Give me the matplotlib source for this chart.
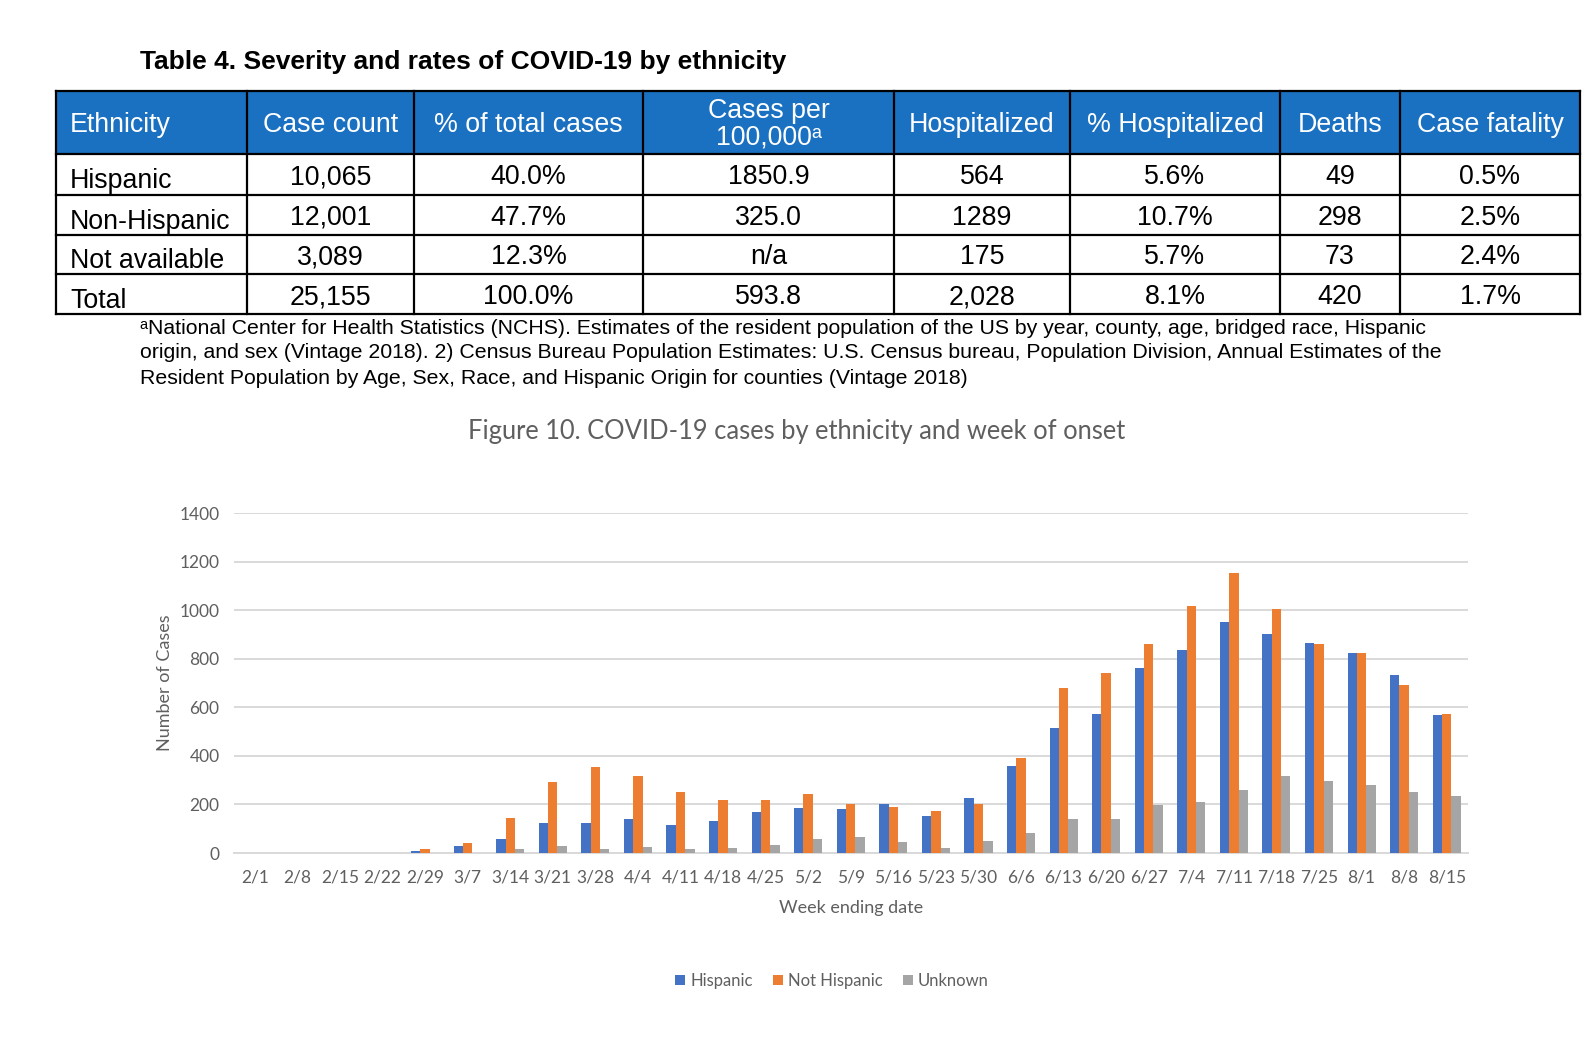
import matplotlib
matplotlib.use('Agg')
import numpy as np
from matplotlib import pyplot as plt
from matplotlib.patches import Rectangle

# table data
table_title = 'Table 4. Severity and rates of COVID-19 by ethnicity'
col_headers = ['Ethnicity', 'Case count', '% of total cases', 'Cases per\n100,000\u1d43',
               'Hospitalized', '% Hospitalized', 'Deaths', 'Case fatality']
row_names = ['Hispanic', 'Non-Hispanic', 'Not available', 'Total']
case_count = ['10,065', '12,001', '3,089', '25,155']
pct_total = ['40.0%', '47.7%', '12.3%', '100.0%']
cases_per_100k = ['1850.9', '325.0', 'n/a', '593.8']
hospitalized = ['564', '1289', '175', '2,028']
pct_hosp = ['5.6%', '10.7%', '5.7%', '8.1%']
deaths = ['49', '298', '73', '420']
case_fatality = ['0.5%', '2.5%', '2.4%', '1.7%']
footnote = ['\u1d43National Center for Health Statistics (NCHS). Estimates of the resident population of the US by year, county, age, bridged race, Hispanic',
            'origin, and sex (Vintage 2018). 2) Census Bureau Population Estimates: U.S. Census bureau, Population Division, Annual Estimates of the',
            'Resident Population by Age, Sex, Race, and Hispanic Origin for counties (Vintage 2018)']

# chart data
chart_title = 'Figure 10. COVID-19 cases by ethnicity and week of onset'
weeks = ['2/1', '2/8', '2/15', '2/22', '2/29', '3/7', '3/14', '3/21', '3/28', '4/4',
         '4/11', '4/18', '4/25', '5/2', '5/9', '5/16', '5/23', '5/30', '6/6', '6/13',
         '6/20', '6/27', '7/4', '7/11', '7/18', '7/25', '8/1', '8/8', '8/15']
hispanic = [0, 0, 0, 0, 8, 30, 59, 124, 124, 140,
            116, 132, 167, 187, 180, 200, 151, 228, 357, 513,
            574, 762, 834, 951, 903, 866, 822, 734, 568]
not_hispanic = [0, 0, 0, 0, 15, 43, 143, 291, 353, 317,
                251, 219, 219, 244, 203, 191, 172, 203, 393, 678,
                743, 862, 1016, 1152, 1005, 861, 822, 693, 574]
unknown = [0, 0, 0, 0, 0, 2, 18, 30, 18, 26,
           18, 22, 32, 56, 66, 44, 22, 51, 82, 139,
           139, 198, 211, 261, 317, 296, 280, 253, 236]

W, H = 1592, 1061
fig = plt.figure(figsize=(W / 100, H / 100), dpi=100)
fig.patch.set_facecolor('white')

# ---- table drawn in pixel coords ----
axt = fig.add_axes([0, 0, 1, 1])
axt.set_xlim(0, W)
axt.set_ylim(H, 0)
axt.axis('off')

tfont = ['Liberation Sans', 'DejaVu Sans']
col_x = [56, 247, 414, 643, 894, 1070, 1280, 1400, 1580]
row_y = [91, 154, 195, 234.5, 274, 314]
header_blue = '#1a70c1'
fs = 19.3

axt.text(140, 62, table_title, fontsize=19, fontweight='bold', family=tfont,
         ha='left', va='center', color='black')

axt.add_patch(Rectangle((col_x[0], row_y[0]), col_x[-1] - col_x[0], row_y[1] - row_y[0],
                        facecolor=header_blue, edgecolor='none'))
for x in col_x:
    axt.plot([x, x], [row_y[0], row_y[-1]], color='black', lw=1.6, solid_capstyle='projecting')
for y in row_y:
    axt.plot([col_x[0], col_x[-1]], [y, y], color='black', lw=1.6, solid_capstyle='projecting')

hy = (row_y[0] + row_y[1]) / 2 + 3
for i, h in enumerate(col_headers):
    if i == 0:
        axt.text(col_x[0] + 14, hy, h, fontsize=fs, family=tfont, color='white',
                 ha='left', va='center')
    else:
        axt.text((col_x[i] + col_x[i + 1]) / 2, hy - 1, h, fontsize=fs, family=tfont, color='white',
                 ha='center', va='center', linespacing=1.0)

columns = [row_names, case_count, pct_total, cases_per_100k, hospitalized, pct_hosp, deaths, case_fatality]
for r in range(len(row_names)):
    cy = (row_y[r + 1] + row_y[r + 2]) / 2 + 3
    for c, col in enumerate(columns):
        if c == 0:
            axt.text(col_x[0] + 14, cy + 4, col[r], fontsize=fs, family=tfont, color='black',
                     ha='left', va='center')
        else:
            axt.text((col_x[c] + col_x[c + 1]) / 2, cy, col[r], fontsize=fs, family=tfont,
                     color='black', ha='center', va='center')

for i, line in enumerate(footnote):
    axt.text(140, 328 + i * 25, line, fontsize=15.3, family=tfont, color='black',
             ha='left', va='center')

# ---- bar chart ----
cfont = ['Lato', 'DejaVu Sans']
gray_text = '#5f5f5f'
ax = fig.add_axes([233.5 / W, 1 - 853 / H, (1468 - 233.5) / W, (853 - 513) / H])
x = np.arange(len(weeks))
bw = 0.22
ax.bar(x - bw, hispanic, bw, color='#4472C4', label='Hispanic', zorder=3)
ax.bar(x, not_hispanic, bw, color='#ED7D31', label='Not Hispanic', zorder=3)
ax.bar(x + bw, unknown, bw, color='#A5A5A5', label='Unknown', zorder=3)
ax.set_xlim(-0.5, len(weeks) - 0.5)
ax.set_ylim(0, 1400)
ax.set_yticks(range(0, 1401, 200))
ax.set_xticks(x)
ax.set_xticklabels(weeks)
ax.yaxis.grid(True, color='#d9d9d9', lw=1.4, zorder=0)
ax.set_axisbelow(True)
for s in ['top', 'right', 'left']:
    ax.spines[s].set_visible(False)
ax.spines['bottom'].set_color('#d9d9d9')
ax.spines['bottom'].set_linewidth(1.4)
ax.tick_params(axis='both', length=0, labelsize=12.5, labelcolor=gray_text)
ax.tick_params(axis='x', pad=12)
ax.tick_params(axis='y', pad=10)
for lab in ax.get_xticklabels() + ax.get_yticklabels():
    lab.set_family(cfont)
ax.set_xlabel('Week ending date', fontsize=13, color=gray_text, family=cfont, labelpad=10)
ax.set_ylabel('Number of Cases', fontsize=13, color=gray_text, family=cfont, labelpad=5)

fig.text(797 / W, 1 - 432 / H, chart_title, fontsize=18.4, color=gray_text, family=cfont,
         ha='center', va='center')

leg = fig.legend(loc='center', bbox_to_anchor=(832 / W, 1 - 981 / H), ncol=3, frameon=False,
                 handlelength=0.6, handleheight=0.6, handletextpad=0.3, columnspacing=1.2,
                 prop={'family': cfont, 'size': 12})
for t in leg.get_texts():
    t.set_color(gray_text)

fig.savefig('out.png', dpi=100)
